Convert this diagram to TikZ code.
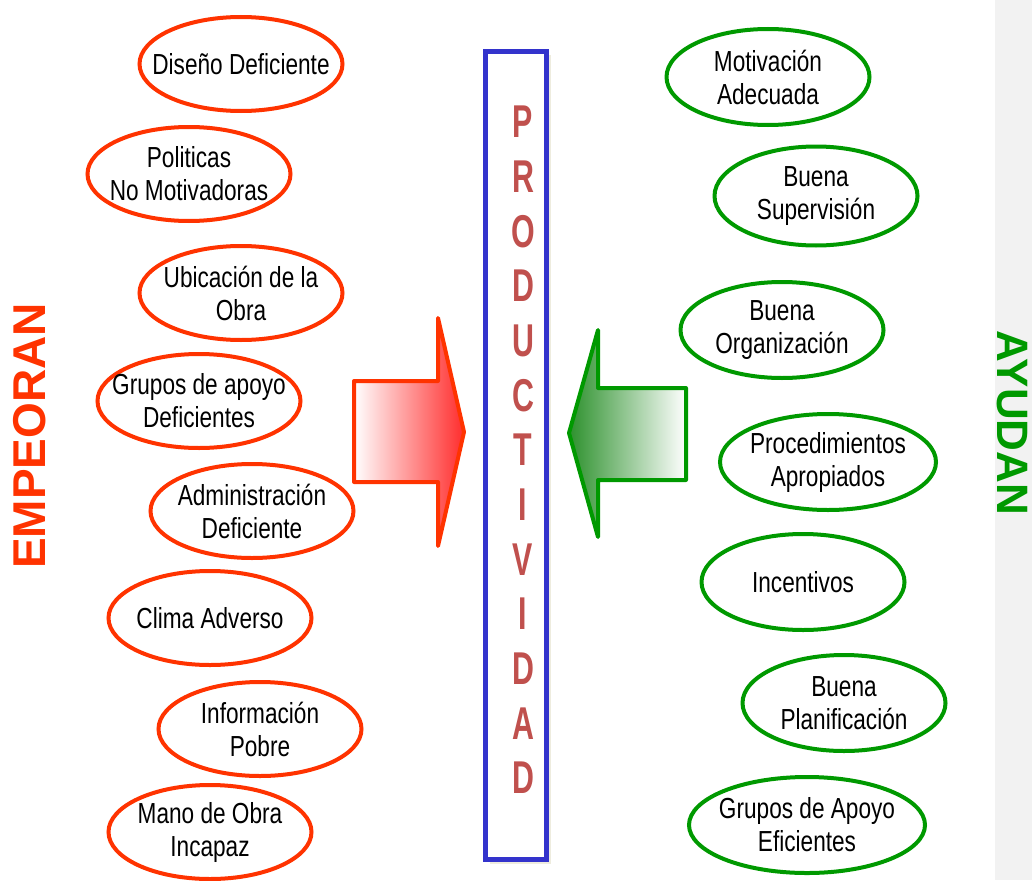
\documentclass[tikz,border=0pt]{standalone}
\usepackage{fontspec}
\setmainfont{Liberation Sans}
\newfontfamily\ovalfont[FakeStretch=0.78]{Liberation Sans}
\newfontfamily\tallfont[FakeStretch=0.66]{Liberation Sans}
\usetikzlibrary{shapes.geometric, shadows}
\definecolor{badred}{RGB}{255,51,0}
\definecolor{goodgreen}{RGB}{0,153,0}
\definecolor{boxblue}{RGB}{51,51,204}
\definecolor{wordred}{RGB}{192,80,77}
\definecolor{tipred}{RGB}{255,45,45}
\definecolor{tipgreen}{RGB}{45,145,45}
\definecolor{stripgray}{RGB}{242,242,242}
\definecolor{shadowtan}{RGB}{238,236,222}

\begin{document}
\begin{tikzpicture}[x=1pt, y=-1pt, node distance={110pt},
	oval/.style = {draw, ellipse, line width=4pt, inner xsep=-30pt, inner ysep=-15pt, minimum width=203pt, minimum height=94pt, align=center, font=\ovalfont\fontsize{29}{33}\selectfont},
	bad/.style = {oval, draw=badred},
	good/.style = {oval, draw=goodgreen, minimum height=96pt},
	side/.style = {inner sep=0pt, font=\bfseries\fontsize{46}{46}\selectfont}]
		\useasboundingbox (0,0) rectangle (1032,880);
		\fill[stripgray] (995,0) rectangle (1032,880);
		% left side
		\node[bad] (1) at (241,64) {Diseño Deficiente};
		\node[bad] (2) [below of=1, xshift=-52pt] {Politicas\\No Motivadoras};
		\node[bad, node distance=119pt] (3) [below of=2, xshift=52pt] {Ubicación de la\\Obra};
		\node[bad, node distance=108pt] (4) [below of=3, xshift=-42pt] {Grupos de apoyo\\Deficientes};
		\node[bad] (5) [below of=4, xshift=53pt] {Administración\\Deficiente};
		\node[bad, node distance=107pt] (6) [below of=5, xshift=-42pt] {Clima Adverso};
		\node[bad, node distance=111pt] (7) [below of=6, xshift=50pt] {Información\\Pobre};
		\node[bad, node distance=103pt] (8) [below of=7, xshift=-50pt] {Mano de Obra\\Incapaz};
		% right side
		\node[good] (9) at (768,77) {Motivación\\Adecuada};
		\node[good, node distance=119pt, minimum height=99pt] (10) [below of=9, xshift=48pt] {Buena\\Supervisión};
		\node[good, node distance=134pt] (11) [below of=10, xshift=-34pt] {Buena\\Organización};
		\node[good, node distance=132pt, minimum width=216pt] (12) [below of=11, xshift=46pt] {Procedimientos\\Apropiados};
		\node[good, node distance=120pt] (13) [below of=12, xshift=-25pt] {Incentivos};
		\node[good, node distance=121pt] (14) [below of=13, xshift=41pt] {Buena\\Planificación};
		\node[good, node distance=122pt, minimum width=236pt] (15) [below of=14, xshift=-37pt] {Grupos de Apoyo\\Eficientes};
		% middle
		\node[draw=boxblue, line width=5.5pt, fill=white, minimum width=61pt, minimum height=808pt, inner sep=0pt,
			drop shadow={shadow xshift=4pt, shadow yshift=-4pt, fill=shadowtan, opacity=1}] (prod) at (516,455.5) {};
		\node[inner sep=0pt, align=center, text=wordred, font=\tallfont\bfseries\fontsize{46}{54.67}\selectfont] (word) at (523,450) {P\\R\\O\\D\\U\\C\\T\\I\\V\\I\\D\\A\\D};
		\draw[draw=badred, line width=4pt, line join=round, left color=white, right color=tipred] (354,381) -- (438,381) -- (438,318) -- (464,432) -- (438,546) -- (438,482) -- (354,482) -- cycle;
		\draw[draw=goodgreen, line width=4pt, line join=round, left color=tipgreen, right color=white] (569,433) -- (598,330) -- (598,388) -- (686,388) -- (686,480) -- (598,480) -- (598,537) -- cycle;
		\node[side, text=badred, rotate=90] (empeoran) at (30,436) {EMPEORAN};
		\node[side, text=goodgreen, rotate=-90, font=\bfseries\fontsize{44}{44}\selectfont] (ayudan) at (1012,423) {AYUDAN};
\end{tikzpicture}
\end{document}
